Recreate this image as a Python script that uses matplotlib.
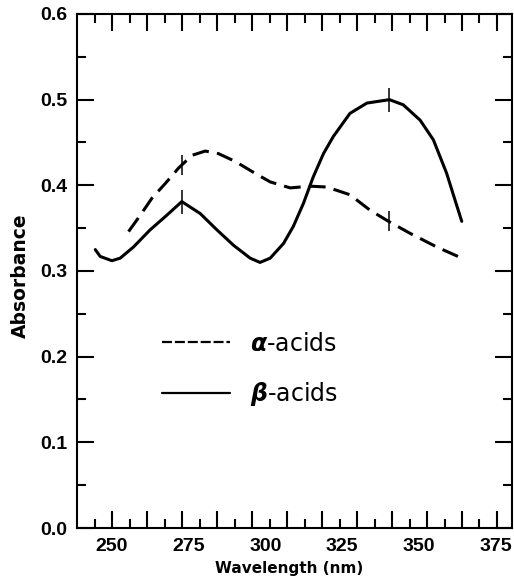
import numpy as np
import matplotlib
matplotlib.use('Agg')
import matplotlib.pyplot as plt
from matplotlib.ticker import FixedLocator, MultipleLocator

# values
beta_nm = [244.8, 246.4, 250.2, 252.9, 257.2, 262.6, 268.0, 272.9, 278.9, 284.3,
           289.7, 295.1, 298.3, 301.6, 305.9, 309.1, 312.4, 315.6, 318.9, 322.1,
           327.5, 333.0, 340.3, 344.8, 350.3, 354.6, 358.9, 361.6, 363.8]
beta_abs = [0.325, 0.317, 0.312, 0.315, 0.328, 0.348, 0.365, 0.381, 0.367, 0.348,
            0.330, 0.315, 0.310, 0.315, 0.332, 0.352, 0.379, 0.410, 0.437, 0.457,
            0.484, 0.496, 0.500, 0.494, 0.476, 0.453, 0.414, 0.383, 0.358]

alpha_nm = [255.6, 259.4, 263.2, 267.5, 271.8, 276.2, 280.5, 284.8, 290.2, 296.7,
            301.6, 308.1, 314.6, 320.0, 327.5, 334.0, 340.0, 347.0, 355.7, 363.2]
alpha_abs = [0.346, 0.365, 0.385, 0.402, 0.420, 0.435, 0.440, 0.437, 0.428, 0.414,
             0.404, 0.397, 0.399, 0.398, 0.389, 0.371, 0.358, 0.344, 0.328, 0.316]

# the small crosses drawn on the curves
mark_nm = [272.9, 340.2]
alpha_mark = [0.424, 0.358]
beta_mark = [0.381, 0.500]

xtick_labels = [250, 275, 300, 325, 350, 375]

plt.rcParams['mathtext.fontset'] = 'custom'
plt.rcParams['mathtext.it'] = 'DejaVu Sans:italic:bold'
plt.rcParams['mathtext.rm'] = 'DejaVu Sans'

fig = plt.figure(figsize=(5.14, 5.78), dpi=100)
ax = fig.add_axes([0.150, 0.0865, 0.846, 0.8893])

ax.plot(alpha_nm, alpha_abs, color='black', linewidth=2.2,
        dashes=(5.5, 2.7), label=r'$\alpha$-acids')
ax.plot(beta_nm, beta_abs, color='black', linewidth=2.2,
        solid_capstyle='round', label=r'$\beta$-acids')
ax.plot(mark_nm, alpha_mark, linestyle='none', marker='|', markersize=15,
        markeredgewidth=1.1, color='black')
ax.plot(mark_nm, beta_mark, linestyle='none', marker='|', markersize=17,
        markeredgewidth=1.1, color='black')

ax.set_xlim(238.9, 380.1)
ax.set_ylim(0.0, 0.6)

# tick marks of the scan (not aligned with the labels in the original)
ax.xaxis.set_major_locator(FixedLocator(250.3 + 11.36 * np.arange(12)))
ax.xaxis.set_minor_locator(FixedLocator(244.6 + 11.36 * np.arange(12)))
ax.yaxis.set_major_locator(MultipleLocator(0.1))
ax.yaxis.set_minor_locator(MultipleLocator(0.05))
ax.yaxis.set_major_formatter(lambda v, p: f'{v:.1f}')

ax.tick_params(which='both', direction='in', top=True, right=True,
               width=1.5, color='black')
ax.tick_params(which='major', length=12.5)
ax.tick_params(axis='y', which='minor', length=6.5)
ax.tick_params(axis='x', which='minor', length=6.5)
ax.tick_params(axis='x', labelbottom=False)
ax.tick_params(axis='y', pad=7)
for lab in ax.get_yticklabels():
    lab.set_fontfamily('Liberation Sans')
    lab.set_fontweight('bold')
    lab.set_fontsize(14)

for s in ax.spines.values():
    s.set_linewidth(1.5)

sec = ax.secondary_xaxis('bottom')
sec.set_xticks(xtick_labels)
sec.tick_params(length=0, pad=7)
sec.spines['bottom'].set_visible(False)
for lab in sec.get_xticklabels():
    lab.set_fontfamily('Liberation Sans')
    lab.set_fontweight('bold')
    lab.set_fontsize(14)

ax.set_xlabel('Wavelength (nm)', fontsize=11, fontweight='bold')
ax.xaxis.set_label_coords(0.487, -0.064)
ax.set_ylabel('Absorbance', fontsize=13.5, fontweight='bold')
ax.yaxis.set_label_coords(-0.108, 0.49)

leg = ax.legend(loc='upper left', bbox_to_anchor=(0.195, 0.382), frameon=False,
                fontsize=17, borderpad=0, borderaxespad=0, handlelength=2.9,
                handletextpad=0.85, labelspacing=1.05)
for ln in leg.get_lines():
    ln.set_linewidth(1.6)
leg.get_lines()[0].set_dashes((4.5, 1.3))

fig.savefig('out.png', dpi=100)
